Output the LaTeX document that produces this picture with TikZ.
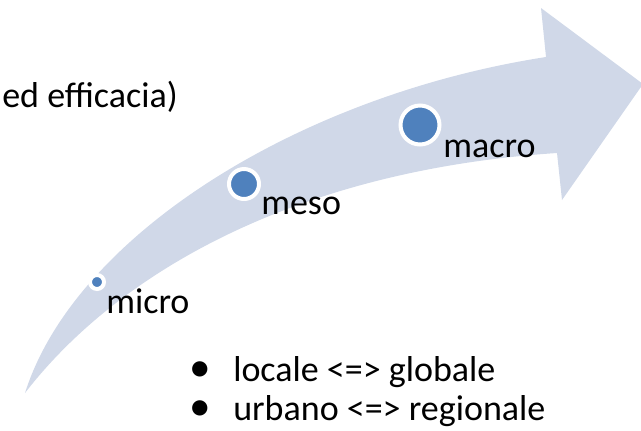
\documentclass[tikz,border=0pt]{standalone}
\usepackage{fontspec}
\setmainfont{Carlito}
\definecolor{arrowfill}{HTML}{D0D8E8}
\definecolor{dotblue}{HTML}{4F81BD}

\begin{document}
\begin{tikzpicture}[x=0.75pt,y=-0.75pt,
  dot/.style={circle,fill=dotblue,draw=white,line width=3pt,inner sep=0pt},
  lbl/.style={anchor=base west,inner sep=0pt,font=\fontsize{27}{29}\selectfont}]
  \useasboundingbox (0,0) rectangle (641,430);
  \fill[arrowfill] (25,393) .. controls (75,235) and (300,95) .. (546,57) -- (541,8) -- (643,84)
    -- (562,200) -- (557,153) .. controls (300,170) and (120,270) .. (25,393) -- cycle;
  \node[dot,minimum size=10.5pt] (micro) at (97,282) {};
  \node[dot,minimum size=22.5pt] (meso) at (244,184) {};
  \node[dot,minimum size=29.25pt] (macro) at (420,125) {};
  \node[lbl] (microlbl) at (106,313) {micro};
  \node[lbl] (mesolbl) at (261,214) {meso};
  \node[lbl] (macrolbl) at (443,157) {macro};
  \node[lbl,anchor=base east] (eff) at (178,107) {ed efficacia)};
  \node[lbl,anchor=base,scale=1.2] (b1) at (200,381) {•};
  \node[lbl] (loc) at (233,381) {locale <=> globale};
  \node[lbl,anchor=base,scale=1.2] (b2) at (200,420) {•};
  \node[lbl] (urb) at (233,420) {urbano <=> regionale};
\end{tikzpicture}
\end{document}
